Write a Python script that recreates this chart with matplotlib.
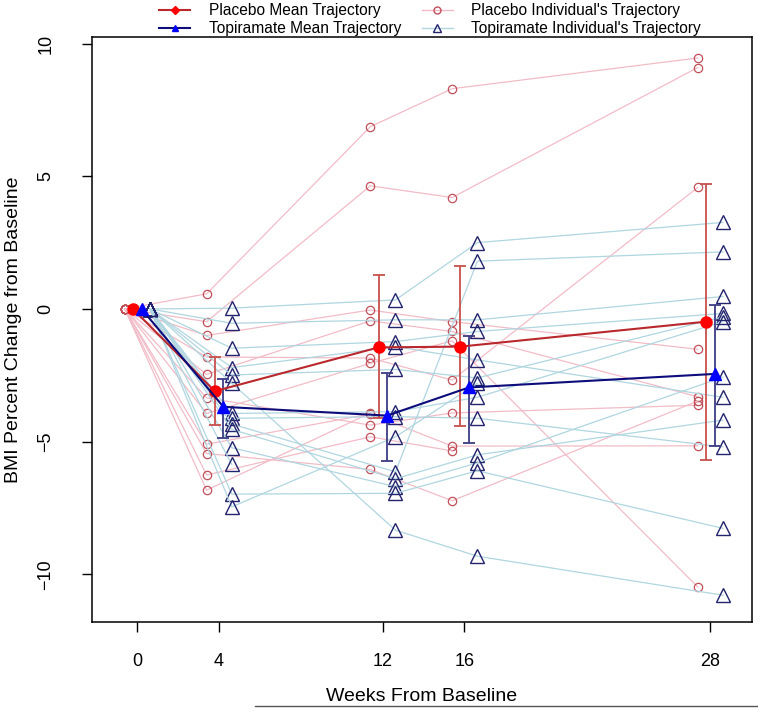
import numpy as np
import matplotlib.pyplot as plt
from matplotlib.lines import Line2D

plt.rcParams['font.family'] = ['Liberation Sans', 'DejaVu Sans']

weeks = [0, 4, 12, 16, 28]

# individual trajectories, BMI % change at weeks 0, 4, 12, 16, 28 (nan = missing)
placebo = [
    [0, 0.57, 6.87, 8.30, 9.46],
    [0, -0.48, 4.64, 4.20, 9.10],
    [0, -1.00, -0.04, -0.48, -1.52],
    [0, -1.81, -1.85, -2.68, 4.58],
    [0, -2.47, -0.45, -0.85, -3.31],
    [0, -3.35, -4.38, -3.92, -3.63],
    [0, -3.94, -2.05, -1.20, -10.48],
    [0, -5.10, -3.96, -5.17, -5.16],
    [0, -5.45, -6.05, -7.23, -3.47],
    [0, -6.26, -4.82, -5.35, np.nan],
    [0, -6.83, -3.92, np.nan, np.nan],
]
topiramate = [
    [0, 0.03, 0.34, 2.50, 3.26],
    [0, -0.54, -0.41, -0.41, 0.47],
    [0, -1.48, -1.23, -0.85, -0.17],
    [0, -2.21, -1.42, -1.92, -3.33],
    [0, -2.49, -2.28, -2.60, -0.30],
    [0, -2.80, -8.34, -9.32, -10.79],
    [0, -3.94, -3.87, -3.33, -0.48],
    [0, -4.12, -4.06, -4.12, -5.20],
    [0, -4.34, -6.14, 1.80, 2.15],
    [0, -4.54, -6.40, -5.50, -4.19],
    [0, -5.23, -6.70, -5.80, -2.57],
    [0, -6.98, -6.95, -6.10, -8.27],
    [0, -7.46, -4.82, -2.80, np.nan],
    [0, -5.86, np.nan, np.nan, np.nan],
]

placebo_mean = [0, -3.10, -1.45, -1.42, -0.48]
placebo_lo = [-4.38, -4.12, -4.40, -5.70]
placebo_hi = [-1.82, 1.28, 1.60, 4.70]

topiramate_mean = [0, -3.69, -4.02, -2.96, -2.45]
topiramate_lo = [-4.88, -5.74, -5.04, -5.17]
topiramate_hi = [-2.65, -2.40, -1.02, 0.15]

x = np.array(weeks, dtype=float)

fig = plt.figure(figsize=(7.58, 7.08), dpi=100)
ax = fig.add_axes([92 / 758, 1 - 622 / 708, 660 / 758, 585 / 708])

pink = '#f2bcc7'
lblue = '#b0d6e0'
circ_edge = '#c0505a'
tri_edge = '#23236e'

for row in placebo:
    ax.plot(x - 0.6, row, color=pink, lw=0.9, marker='o', ms=6, mfc='none',
            mec=circ_edge, mew=0.9, zorder=2)
for row in topiramate:
    ax.plot(x + 0.63, row, color=lblue, lw=0.9, marker='^', ms=9.5, mfc='none',
            mec=tri_edge, mew=1.0, zorder=2)

# error bars
pm = np.array(placebo_mean[1:])
tm = np.array(topiramate_mean[1:])
ax.errorbar(x[1:] - 0.2, pm, yerr=[pm - np.array(placebo_lo), np.array(placebo_hi) - pm],
            fmt='none', ecolor='#c8504c', elinewidth=1.3, capsize=4.5, capthick=1.3, zorder=4)
ax.errorbar(x[1:] + 0.22, tm, yerr=[tm - np.array(topiramate_lo), np.array(topiramate_hi) - tm],
            fmt='none', ecolor='#3b3b86', elinewidth=1.3, capsize=4.5, capthick=1.3, zorder=4)

# mean trajectories
ax.plot(x - 0.2, placebo_mean, color='#b8282c', lw=1.5, marker='o', ms=8,
        mfc='#ff0000', mec='#ff0000', zorder=5)
ax.plot(x + 0.22, topiramate_mean, color='#0c0c7a', lw=1.5, marker='^', ms=9,
        mfc='#0000ff', mec='#0000ff', zorder=5)

ax.set_xlim(-2.2, 30.05)
ax.set_ylim(-11.8, 10.25)
ax.set_xticks(weeks)
ax.set_yticks([-10, -5, 0, 5, 10])
ax.tick_params(axis='both', direction='out', length=7, width=1, labelsize=13)
ax.tick_params(axis='x', pad=15)
ax.tick_params(axis='y', pad=20)
for lab in ax.get_yticklabels():
    lab.set_rotation(90)
    lab.set_va('center')
for s in ax.spines.values():
    s.set_linewidth(1.1)

ax.set_xlabel('Weeks From Baseline', fontsize=14, labelpad=13)
ax.set_ylabel('BMI Percent Change from Baseline', fontsize=14, labelpad=11)

handles = [
    Line2D([], [], color='#b8282c', lw=1.5, marker='D', ms=4, mfc='#ff0000', mec='#ff0000'),
    Line2D([], [], color='#0c0c7a', lw=1.5, marker='^', ms=5, mfc='#0000ff', mec='#0000ff'),
    Line2D([], [], color=pink, lw=1, marker='o', ms=5, mfc='none', mec=circ_edge),
    Line2D([], [], color=lblue, lw=1, marker='^', ms=6, mfc='none', mec=tri_edge),
]
labels = ['Placebo Mean Trajectory', 'Topiramate Mean Trajectory',
          "Placebo Individual's Trajectory", "Topiramate Individual's Trajectory"]
fig.legend(handles, labels, ncol=2, frameon=False, fontsize=11.2,
           loc='upper left', bbox_to_anchor=(150 / 758, 1.009),
           handlelength=2.0, handletextpad=1.2, columnspacing=1.3,
           labelspacing=0.2, borderpad=0.1)

fig.add_artist(Line2D([255 / 758, 1], [1 - 706 / 708] * 2, color='#555555', lw=1))

fig.savefig('out.png', dpi=100)
